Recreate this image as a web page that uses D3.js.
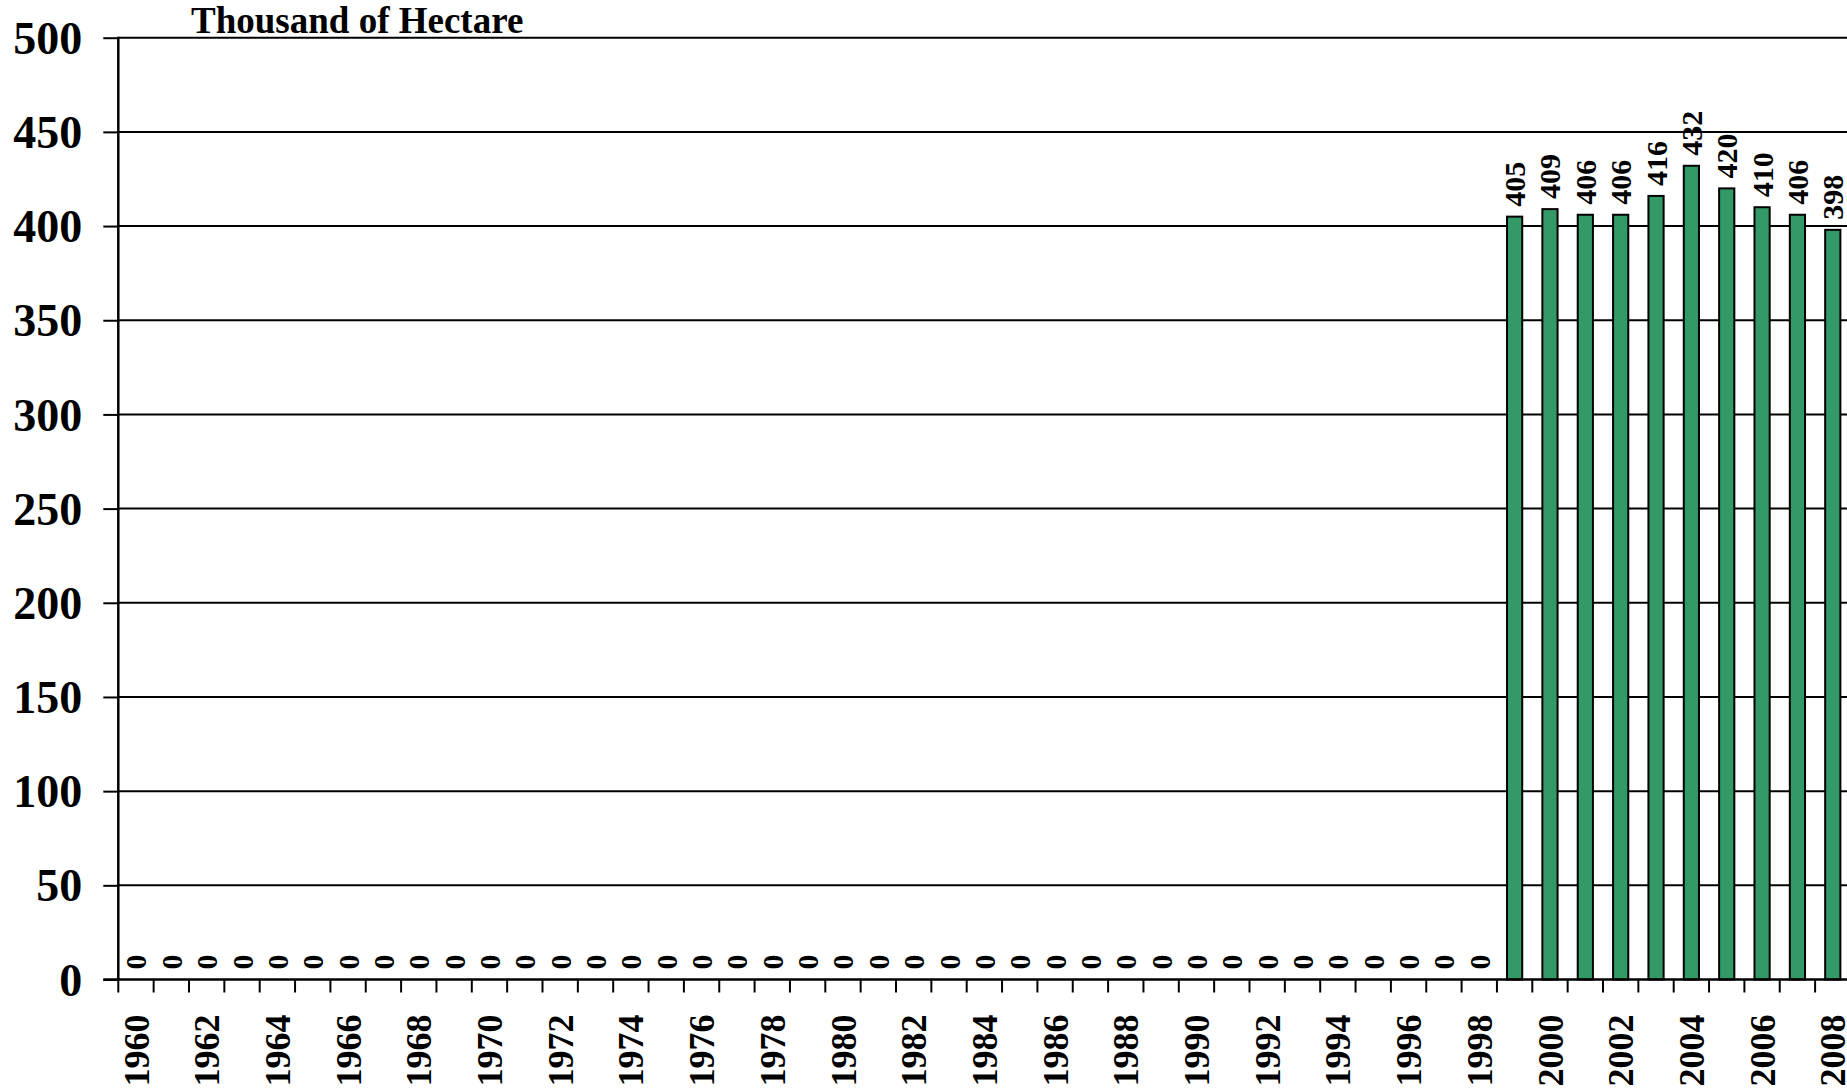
<!DOCTYPE html>
<html><head><meta charset="utf-8">
<script src="https://cdn.jsdelivr.net/npm/d3@7/dist/d3.min.js"></script>
<style>
html,body{margin:0;padding:0;background:#fff;overflow:hidden}
svg text{font-family:"Liberation Serif","Times New Roman",serif;font-weight:bold;fill:#000}
</style></head>
<body><svg id="c" width="1847" height="1088"></svg>
<script>
const years = d3.range(1960, 2009);
const values = [0,0,0,0,0,0,0,0,0,0,0,0,0,0,0,0,0,0,0,0,0,0,0,0,0,0,0,0,0,0,0,0,0,0,0,0,0,0,0,
  405,409,406,406,416,432,420,410,406,398];
const yTicks = [0,50,100,150,200,250,300,350,400,450,500];
const xTickLabels = years.filter(y => y % 2 === 0);
const title = "Thousand of Hectare";

(function () {
const svg = d3.select("#c");
const mLeft = 118.3, mTop = 37.7, mBottom = 979.5;
const step = 35.35;
const mRight = mLeft + step * years.length;

const x = d3.scaleBand().domain(years).range([mLeft, mRight]).padding(0);
const y = d3.scaleLinear().domain([0, 500]).range([mBottom, mTop]);

// gridlines
svg.append("g").selectAll("line").data(yTicks.filter(d => d > 0)).join("line")
  .attr("x1", mLeft).attr("x2", 1847)
  .attr("y1", d => y(d)).attr("y2", d => y(d))
  .attr("stroke", "#000").attr("stroke-width", 2);

// y axis
const yAxis = d3.axisLeft(y).tickValues(yTicks).tickSize(15).tickPadding(21).tickFormat(d3.format("d"));
const gy = svg.append("g").attr("transform", `translate(${mLeft},0)`).call(yAxis);
gy.select(".domain").remove();
gy.selectAll(".tick line").attr("stroke", "#000").attr("stroke-width", 2);
gy.selectAll(".tick text").style("font-size", "46px").attr("dy", "0.34em");
svg.append("line").attr("x1", mLeft).attr("x2", mLeft).attr("y1", mTop - 1).attr("y2", mBottom + 1)
  .attr("stroke", "#000").attr("stroke-width", 2.5);

// bars
const barW = x.bandwidth() * 0.43;
svg.append("g").selectAll("rect").data(years).join("rect")
  .attr("x", (d) => x(d) + x.bandwidth() / 2 - barW / 2)
  .attr("width", barW)
  .attr("y", (d, i) => y(values[i]))
  .attr("height", (d, i) => mBottom - y(values[i]))
  .attr("fill", "#339966").attr("stroke", "#000").attr("stroke-width", 2);

// x axis baseline and ticks
svg.append("line").attr("x1", mLeft - 15).attr("x2", 1847).attr("y1", mBottom).attr("y2", mBottom)
  .attr("stroke", "#000").attr("stroke-width", 2.5);
const boundaries = years.map(d => x(d)).concat([mRight]);
svg.append("g").selectAll("line").data(boundaries).join("line")
  .attr("x1", d => d).attr("x2", d => d).attr("y1", mBottom).attr("y2", mBottom + 13)
  .attr("stroke", "#000").attr("stroke-width", 2);

// x labels
svg.append("g").selectAll("text").data(xTickLabels).join("text")
  .attr("transform", d => `translate(${x(d) + x.bandwidth() / 2},${mBottom + 35}) rotate(-90)`)
  .attr("text-anchor", "end").attr("dy", "0.35em")
  .style("font-size", "36px").text(d => d);

// value labels
svg.append("g").selectAll("text").data(years).join("text")
  .attr("transform", (d, i) => `translate(${x(d) + x.bandwidth() / 2},${y(values[i]) - 10}) rotate(-90)`)
  .attr("text-anchor", "start").attr("dy", "0.35em")
  .style("font-size", "30px").text((d, i) => values[i]);

// title
svg.append("text").attr("x", 191).attr("y", 33).style("font-size", "37px").text(title);
})();
</script></body></html>
